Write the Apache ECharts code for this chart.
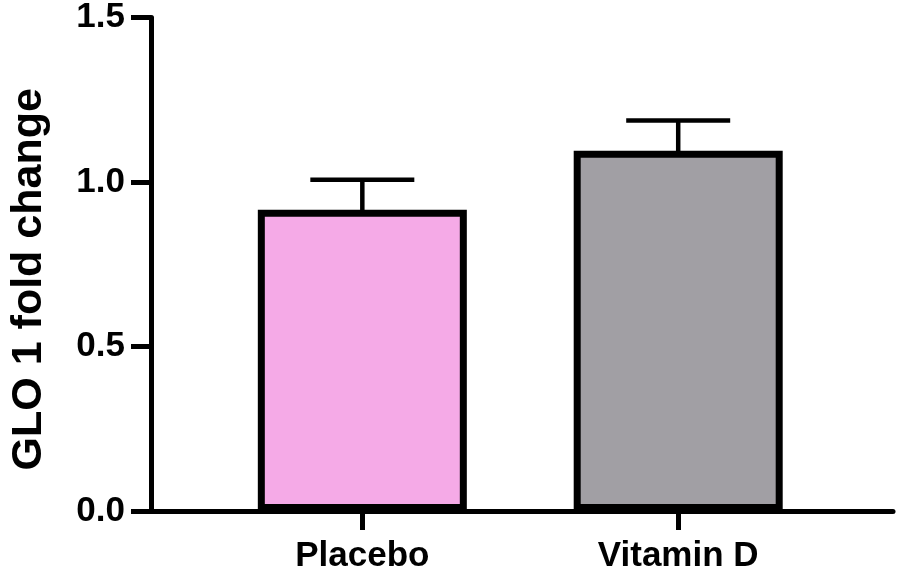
<!DOCTYPE html>
<html>
<head>
<meta charset="utf-8">
<script src="https://cdn.jsdelivr.net/npm/echarts@6/dist/echarts.min.js"></script>
<style>
  html, body { margin: 0; padding: 0; background: #ffffff; }
  #chart { width: 898px; height: 575px; }
</style>
</head>
<body>
<div id="chart"></div>
<script>
// ---- data ----
const categories = ['Placebo', 'Vitamin D'];
const means = [0.916, 1.095];
const errorTops = [1.007, 1.187];
const barColors = ['#F5AAE7', '#A19FA4'];
const yTitle = 'GLO 1 fold change';

const positions = categories.map((c, i) => i);

const chart = echarts.init(document.getElementById('chart'), null, { renderer: 'canvas' });

const fontFam = '"Liberation Sans", Arial, Helvetica, sans-serif';

const option = {
  animation: false,
  backgroundColor: '#ffffff',
  grid: { left: 148.5, right: 5, top: 15, bottom: 64, containLabel: false },
  xAxis: {
    type: 'value',
    min: -0.669,
    max: 1.680,
    splitLine: { show: false },
    axisLine: { show: true, onZero: false, lineStyle: { color: '#000', width: 5 } },
    axisTick: {
      show: true, customValues: positions, length: 19, inside: false,
      lineStyle: { color: '#000', width: 5 }
    },
    axisLabel: {
      show: true, customValues: positions, margin: 28,
      formatter: v => categories[Math.round(v)] || '',
      color: '#000', fontFamily: fontFam, fontWeight: 'bold', fontSize: 35
    }
  },
  yAxis: {
    type: 'value',
    min: 0, max: 1.5, interval: 0.5,
    name: yTitle,
    nameLocation: 'middle',
    nameGap: 100,
    nameTextStyle: {
      color: '#000', fontFamily: fontFam, fontWeight: 'bold', fontSize: 43,
      padding: [0, 30, 0, 0]
    },
    splitLine: { show: false },
    axisLine: { show: true, onZero: false, lineStyle: { color: '#000', width: 5 } },
    axisTick: { show: true, length: 20, lineStyle: { color: '#000', width: 5 } },
    axisLabel: {
      margin: 26,
      formatter: v => Number(v).toFixed(1),
      color: '#000', fontFamily: fontFam, fontWeight: 'bold', fontSize: 35
    }
  },
  series: [
    {
      type: 'custom',
      z: 1,
      data: positions.map((p, i) => [p, means[i], errorTops[i]]),
      renderItem: function (params, api) {
        const x = api.value(0);
        const base = api.coord([x, api.value(1)]);
        const top = api.coord([x, api.value(2)]);
        const half = 52;
        const style = { stroke: '#000', lineWidth: 4.5, fill: null };
        return {
          type: 'group',
          children: [
            { type: 'line', shape: { x1: base[0], y1: base[1] + 4, x2: top[0], y2: top[1] }, style: style },
            { type: 'line', shape: { x1: top[0] - half, y1: top[1], x2: top[0] + half, y2: top[1] }, style: style }
          ]
        };
      }
    },
    {
      type: 'bar',
      z: 2,
      barWidth: 209,
      data: positions.map((p, i) => ({
        value: [p, means[i]],
        itemStyle: { color: barColors[i], borderColor: '#000', borderWidth: 7 }
      }))
    }
  ]
};

chart.setOption(option);
</script>
</body>
</html>
